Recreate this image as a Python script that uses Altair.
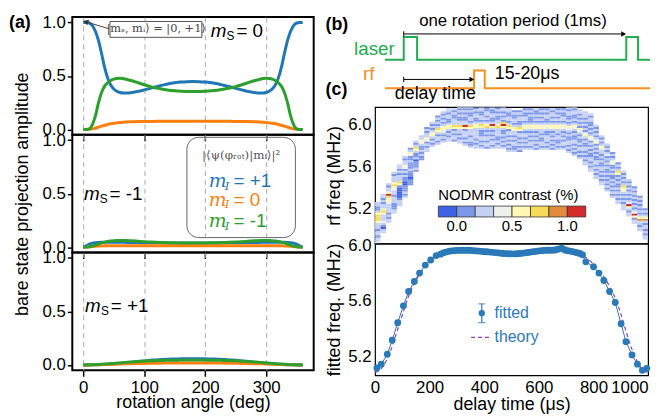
import altair as alt
import pandas as pd

FONT = "Liberation Sans"
SERIF = "DejaVu Serif"
C_BLUE = "#1f77b4"
C_ORANGE = "#ff7f0e"
C_GREEN = "#2ca02c"
C_FIT = "#2a79b8"
C_THEORY = "#8e3fc0"
C_LASER = "#22ad4f"
C_RF = "#f7901e"

# ---------------- (a) bare state projection amplitudes ----------------
deg_fine = [0, 5, 10, 15, 20, 25, 30, 35, 40, 45, 50, 55, 60, 65, 70,
            80, 90, 100, 110, 120, 130, 140, 150, 160, 170, 180, 190, 200, 210, 220, 230, 240, 250, 260, 270, 280,
            290, 295, 300, 305, 310, 315, 320, 325, 330, 335, 340, 345, 350, 355, 360]
deg_coarse = [0, 10, 20, 30, 40, 50, 60, 70, 80, 90, 100, 110, 120, 130, 140, 150, 160, 170, 180,
              190, 200, 210, 220, 230, 240, 250, 260, 270, 280, 290, 300, 310, 320, 330, 340, 350, 360]

ms0_plus = [1.0, 1.0, 0.995, 0.97, 0.915, 0.83, 0.71, 0.58, 0.48, 0.415, 0.378, 0.357, 0.346, 0.341, 0.341,
            0.346, 0.356, 0.37, 0.385, 0.40, 0.414, 0.427, 0.436, 0.443, 0.447, 0.448, 0.447, 0.443, 0.436, 0.427,
            0.414, 0.40, 0.385, 0.37, 0.356, 0.346,
            0.341, 0.341, 0.346, 0.357, 0.378, 0.415, 0.48, 0.58, 0.71, 0.83, 0.915, 0.97, 0.995, 1.0, 1.0]
ms0_minus = [0.0, 0.0, 0.005, 0.045, 0.13, 0.25, 0.345, 0.405, 0.437, 0.458, 0.47, 0.476, 0.478, 0.476, 0.47,
             0.455, 0.437, 0.418, 0.40, 0.387, 0.376, 0.367, 0.361, 0.357, 0.355, 0.354, 0.355, 0.357, 0.361, 0.367,
             0.376, 0.387, 0.40, 0.418, 0.437, 0.455,
             0.47, 0.476, 0.478, 0.476, 0.47, 0.458, 0.437, 0.405, 0.345, 0.25, 0.13, 0.045, 0.005, 0.0, 0.0]
ms0_zero = [0.0, 0.0, 0.002, 0.006, 0.013, 0.022, 0.031, 0.04, 0.047, 0.053, 0.058, 0.062, 0.065, 0.068, 0.07,
            0.072, 0.074, 0.075, 0.075, 0.076, 0.076, 0.076, 0.076, 0.076, 0.076, 0.076, 0.076, 0.076, 0.076, 0.076,
            0.076, 0.076, 0.075, 0.075, 0.074, 0.072,
            0.07, 0.068, 0.065, 0.062, 0.058, 0.053, 0.047, 0.04, 0.031, 0.022, 0.013, 0.006, 0.002, 0.0, 0.0]

msm_plus = [0.0, 0.012, 0.028, 0.038, 0.043, 0.045, 0.046, 0.046, 0.046, 0.046, 0.046, 0.046, 0.046, 0.046, 0.045,
            0.044, 0.043, 0.042, 0.041, 0.041, 0.04, 0.04, 0.04, 0.04, 0.04, 0.04, 0.04, 0.04, 0.04, 0.04,
            0.04, 0.041, 0.041, 0.042, 0.043, 0.044,
            0.045, 0.046, 0.046, 0.046, 0.046, 0.046, 0.046, 0.046, 0.046, 0.045, 0.043, 0.038, 0.028, 0.012, 0.0]
msm_minus = [0.0, 0.001, 0.004, 0.01, 0.02, 0.03, 0.04, 0.048, 0.054, 0.058, 0.061, 0.063, 0.064, 0.064, 0.063,
             0.06, 0.056, 0.052, 0.049, 0.046, 0.044, 0.042, 0.041, 0.04, 0.04, 0.04, 0.04, 0.04, 0.041, 0.042,
             0.044, 0.046, 0.049, 0.052, 0.056, 0.06,
             0.063, 0.064, 0.064, 0.063, 0.061, 0.058, 0.054, 0.048, 0.04, 0.03, 0.02, 0.01, 0.004, 0.001, 0.0]
msm_zero = [0.0, 0.001, 0.003, 0.006, 0.009, 0.011, 0.012, 0.013, 0.013, 0.013, 0.013, 0.013, 0.013, 0.013, 0.013,
            0.013, 0.013, 0.013, 0.013, 0.013, 0.013, 0.013, 0.013, 0.013, 0.013, 0.013, 0.013, 0.013, 0.013, 0.013,
            0.013, 0.013, 0.013, 0.013, 0.013, 0.013,
            0.013, 0.013, 0.013, 0.013, 0.013, 0.013, 0.013, 0.013, 0.012, 0.011, 0.009, 0.006, 0.003, 0.001, 0.0]

msp_plus = [0.0, 0.0, 0.002, 0.004, 0.007, 0.01, 0.015, 0.02, 0.026, 0.032, 0.038, 0.043, 0.047, 0.051, 0.054,
            0.056, 0.057, 0.058, 0.058, 0.058, 0.057, 0.056, 0.054, 0.051, 0.047, 0.043, 0.038, 0.032, 0.026,
            0.02, 0.015, 0.01, 0.007, 0.004, 0.002, 0.0, 0.0]
msp_minus = [0.0, 0.001, 0.003, 0.006, 0.01, 0.014, 0.019, 0.024, 0.028, 0.032, 0.035, 0.038, 0.04, 0.042, 0.043,
             0.044, 0.045, 0.045, 0.045, 0.045, 0.045, 0.044, 0.043, 0.042, 0.04, 0.038, 0.035, 0.032, 0.028,
             0.024, 0.019, 0.014, 0.01, 0.006, 0.003, 0.001, 0.0]
msp_zero = [0.0, 0.0, 0.001, 0.002, 0.004, 0.006, 0.008, 0.01, 0.012, 0.013, 0.014, 0.015, 0.016, 0.017, 0.017,
            0.018, 0.018, 0.018, 0.018, 0.018, 0.018, 0.018, 0.017, 0.017, 0.016, 0.015, 0.014, 0.013, 0.012,
            0.01, 0.008, 0.006, 0.004, 0.002, 0.001, 0.0, 0.0]

ms_values = ["0", "-1", "+1"]
mi_values = ["+1", " 0", "-1"]
mi_colors = [C_BLUE, C_ORANGE, C_GREEN]
ket_text = "|mₛ, mᵢ⟩ = |0, +1⟩"
proj_text = "|⟨ψ(φᵣₒₜ)|mᵢ⟩|²"

# ---------------- (b) timing diagram (µs, arbitrary level) ----------------
laser_t = [-84, 0, 0, 60, 60, 1000, 1000, 1053, 1053, 1107]
laser_v = [5.27, 5.27, 7.80, 7.80, 5.27, 5.27, 7.80, 7.80, 5.27, 5.27]
rf_t = [-84, 316, 316, 364, 364, 1107]
rf_v = [2.09, 2.09, 4.07, 4.07, 2.09, 2.09]

# ---------------- (c) heatmap ----------------
hm_delay = list(range(10, 1000, 20))
hm_low = [4.86, 4.96, 5.06, 5.15, 5.22, 5.30, 5.42, 5.55, 5.66, 5.74,
          5.79, 5.81, 5.83, 5.84, 5.84, 5.82, 5.80, 5.78, 5.77, 5.77,
          5.77, 5.77, 5.77, 5.77, 5.74, 5.74, 5.74, 5.76, 5.76, 5.76,
          5.76, 5.76, 5.76, 5.76, 5.76, 5.73, 5.70, 5.67, 5.61, 5.55,
          5.48, 5.42, 5.36, 5.30, 5.24, 5.18, 5.12, 5.05, 4.98, 4.90]
hm_levels = [
    "43323323335666532233", "3312343335653323233", "3323233334556853323", "33222333233456533323",
    "33321111125633323233", "32322211223232453323", "222122232223224532", "232221322356323",
    "223232235433", "332324533232", "323235532323", "32332356323232", "323234553232323",
    "3323235532233233", "2332325633322323", "332323356332232323", "3232333258332232323",
    "32233233356323322323", "33232333335532233232", "32323322235632332233", "23323323236532323322",
    "32332323235832233223", "33232233336533223232", "32323232235862323233", "323232323325632332233",
    "32233232335532332232", "23232323325632233232", "32323233235532332232", "32332323234532223232",
    "23232323235532323223", "32332232335432323232", "32323332234532233232", "23232323235532323323",
    "32322332335532323232", "32332323234532332232", "3232332232345323223323", "323232332232345323223323",
    "323233232232345232323233", "33232323322323542323232333", "3323233223232324532323223323",
    "33232323322323232543232323", "332323233223232334532323", "32323232322323232432323",
    "3232323232232322543232", "33232323223232563232", "3332323235563232323", "332358432323232323",
    "332584323232323232", "33233753232323232", "332323323753232"]
cb_thresholds = [0, 1 / 6, 1 / 3, 0.5, 2 / 3, 5 / 6, 1.0]
cb_colors = ["#3d62e6", "#7d98ea", "#c5d0f5", "#eef0ec", "#fff8b4", "#f4dc58", "#df8c3c", "#d42a2a"]

# ---------------- (c) fitted frequency ----------------
fit_delay = [7, 23, 45, 63, 83, 104, 123, 144, 163, 184, 204, 224,
             240, 250, 260, 270, 280, 290, 300, 310, 320, 330, 340, 350, 360, 370, 380, 390, 400, 410, 420, 430,
             440, 450, 460, 470, 480, 490, 500, 510, 520, 530, 540, 550, 560, 570, 580, 590, 600, 610, 620, 630,
             640, 650, 660, 670, 683, 690, 700, 710, 720, 730, 740, 750, 760,
             772, 800, 820, 838, 859, 880, 901, 919, 941, 961, 979, 995]
fit_freq = [5.122, 5.149, 5.22, 5.32, 5.445, 5.566, 5.668, 5.74, 5.80, 5.857, 5.893, 5.925,
            5.935, 5.944, 5.95, 5.955, 5.958, 5.96, 5.962, 5.962, 5.963, 5.962,
            5.963, 5.962, 5.96, 5.958, 5.957, 5.955, 5.953, 5.952, 5.95, 5.948,
            5.946, 5.944, 5.942, 5.94, 5.939, 5.938, 5.937, 5.937, 5.938, 5.94,
            5.942, 5.944, 5.947, 5.95, 5.953, 5.955, 5.958, 5.96, 5.962, 5.963,
            5.963, 5.963, 5.965, 5.97, 5.978, 5.97, 5.962, 5.958, 5.955, 5.95, 5.945, 5.94, 5.93,
            5.88, 5.845, 5.80, 5.747, 5.668, 5.59, 5.438, 5.31, 5.215, 5.149, 5.105, 5.118]
theory_delay = list(range(0, 1001, 20))
theory_freq = [5.09, 5.11, 5.17, 5.26, 5.38, 5.50, 5.62, 5.71, 5.78, 5.835,
               5.875, 5.91, 5.935, 5.95, 5.958, 5.962, 5.962, 5.96, 5.958, 5.955,
               5.952, 5.948, 5.945, 5.942, 5.94, 5.938, 5.939, 5.941, 5.944, 5.948,
               5.953, 5.957, 5.96, 5.962, 5.962, 5.958, 5.952, 5.94, 5.925, 5.90,
               5.865, 5.82, 5.77, 5.70, 5.62, 5.51, 5.38, 5.26, 5.17, 5.11, 5.09]

# =====================================================================
XA = alt.Scale(domain=[-18, 378], nice=False, zero=False)
YA = alt.Scale(domain=[-0.05, 1.05], nice=False, zero=False)


def ax_x(bottom):
    return alt.Axis(values=[0, 100, 200, 300], grid=True, gridDash=[5, 4], gridColor="#a8a8a8", gridWidth=1,
                    domain=False, tickSize=6, tickWidth=1.5, tickColor="black", labels=bottom,
                    labelFontSize=17, labelPadding=3, labelColor="black",
                    title="rotation angle (deg)" if bottom else "", titleFontSize=18, titlePadding=-1,
                    titleFontWeight="normal", titleColor="black")


def ax_y(title):
    return alt.Axis(values=[0, 0.5, 1.0], format=".1f", grid=False, domain=False, tickSize=5, tickWidth=1.5,
                    tickColor="black", labelFontSize=17, labelPadding=2, labelColor="black", title=title,
                    titleFontSize=18, titlePadding=11, titleFontWeight="normal", titleColor="black")


def a_base(df, xa, ya, xf="deg", yf="amp"):
    return alt.Chart(df).encode(x=alt.X(f"{xf}:Q", scale=XA, axis=xa), y=alt.Y(f"{yf}:Q", scale=YA, axis=ya))


def curves(deg, plus, zero, minus, xa, ya):
    out = []
    for vals, col in [(plus, C_BLUE), (zero, C_ORANGE), (minus, C_GREEN)]:
        df = pd.DataFrame({"deg": deg, "amp": vals})
        out.append(a_base(df, xa, ya).mark_line(color=col, strokeWidth=3, interpolate="monotone"))
    return out


def ms_label(deg, amp, val, xa, ya):
    b = a_base(pd.DataFrame({"deg": [deg], "amp": [amp]}), xa, ya)
    return [
        b.mark_text(text="m", font=FONT, fontSize=19, fontStyle="italic", align="left", baseline="middle", color="black"),
        b.mark_text(text="S", font=FONT, fontSize=12, align="left", baseline="middle", dx=16, dy=5, color="black"),
        b.mark_text(text="= " + val, font=FONT, fontSize=19, align="left", baseline="middle", dx=26, color="black"),
    ]


VIEW_A = alt.ViewBackground(stroke="black", strokeWidth=2)

# panel 1
xa1, ya1 = ax_x(False), ax_y("")
box1 = a_base(pd.DataFrame({"deg": [43.8], "deg2": [194.5], "amp": [0.861], "amp2": [1.009]}), xa1, ya1).mark_rect(
    fill="white", stroke="#555555", strokeWidth=1).encode(x2="deg2:Q", y2="amp2:Q")
ket = a_base(pd.DataFrame({"deg": [119.5], "amp": [0.935], "t": [ket_text]}), xa1, ya1).mark_text(
    font=SERIF, fontSize=11.5, color="#444444", align="center", baseline="middle").encode(text="t:N")
arrow1 = a_base(pd.DataFrame({"deg": [41.7], "deg2": [5.0], "amp": [0.942], "amp2": [1.005]}), xa1, ya1).mark_rule(
    color="#444444", strokeWidth=1).encode(x2="deg2:Q", y2="amp2:Q")
head1 = a_base(pd.DataFrame({"deg": [4.0], "amp": [1.007]}), xa1, ya1).mark_point(
    shape="triangle-left", angle=17, size=35, filled=True, color="#333333", opacity=1)
lab_a = alt.Chart(pd.DataFrame({"t": ["(a)"]})).mark_text(
    font=FONT, fontSize=18, fontWeight="bold", align="left", baseline="middle", color="black").encode(
    x=alt.value(-64), y=alt.value(6), text="t:N")
p1 = alt.layer(*curves(deg_fine, ms0_plus, ms0_zero, ms0_minus, xa1, ya1), box1, ket, arrow1, head1,
               *ms_label(209, 0.92, ms_values[0], xa1, ya1), lab_a).properties(width=244, height=119, view=VIEW_A)

# panel 2
xa2, ya2 = ax_x(False), ax_y("bare state projection amplitude")
box2 = a_base(pd.DataFrame({"deg": [170], "deg2": [348], "amp": [0.09], "amp2": [1.027]}), xa2, ya2).mark_rect(
    fillOpacity=0, stroke="#666666", strokeWidth=1, cornerRadius=12).encode(x2="deg2:Q", y2="amp2:Q")
proj = a_base(pd.DataFrame({"deg": [259], "amp": [0.864], "t": [proj_text]}), xa2, ya2).mark_text(
    font=SERIF, fontSize=12, color="#555555", align="center", baseline="middle").encode(text="t:N")
mi_layers = []
for val, col, amp in zip(mi_values, mi_colors, [0.618, 0.445, 0.245]):
    b = a_base(pd.DataFrame({"deg": [206], "amp": [amp]}), xa2, ya2)
    mi_layers += [
        b.mark_text(text="m", font=SERIF, fontSize=19, fontStyle="italic", align="left", baseline="middle", color=col),
        b.mark_text(text="I", font=SERIF, fontSize=12, fontStyle="italic", align="left", baseline="middle",
                    dx=16, dy=5, color=col),
        b.mark_text(text="= " + val, font=FONT, fontSize=19, align="left", baseline="middle", dx=25, color=col),
    ]
p2 = alt.layer(*curves(deg_fine, msm_plus, msm_zero, msm_minus, xa2, ya2), box2, proj, *mi_layers,
               *ms_label(1, 0.5, ms_values[1], xa2, ya2)).properties(width=244, height=119, view=VIEW_A)

# panel 3
xa3, ya3 = ax_x(True), ax_y("")
p3 = alt.layer(*curves(deg_coarse, msp_plus, msp_zero, msp_minus, xa3, ya3),
               *ms_label(3, 0.546, ms_values[2], xa3, ya3)).properties(width=244, height=119, view=VIEW_A)

# ---------------- timing ----------------
TX = alt.Scale(domain=[-129, 1098], nice=False, zero=False)
TY = alt.Scale(domain=[0, 10], nice=False, zero=False)


def t_base(df):
    return alt.Chart(df).encode(x=alt.X("t:Q", scale=TX, axis=None), y=alt.Y("v:Q", scale=TY, axis=None))


laser = t_base(pd.DataFrame({"t": laser_t, "v": laser_v, "i": range(len(laser_t))})).mark_line(
    color=C_LASER, strokeWidth=2).encode(order="i:Q")
rf = t_base(pd.DataFrame({"t": rf_t, "v": rf_v, "i": range(len(rf_t))})).mark_line(
    color=C_RF, strokeWidth=2).encode(order="i:Q")
arrows = t_base(pd.DataFrame({"t": [0, 0], "t2": [994, 312], "v": [8.13, 3.08]})).mark_rule(
    color="black", strokeWidth=1).encode(x2="t2:Q")
starts = t_base(pd.DataFrame({"t": [0, 0], "v": [7.83, 2.78], "v2": [8.43, 3.38]})).mark_rule(
    color="black", strokeWidth=1).encode(y2="v2:Q")
heads = t_base(pd.DataFrame({"t": [988, 306], "v": [8.13, 3.08]})).mark_point(
    shape="triangle-right", size=30, filled=True, color="black", opacity=1)
txt_c = t_base(pd.DataFrame({"t": [491], "v": [9.56], "s": ["one rotation period (1ms)"]})).mark_text(
    font=FONT, fontSize=17, align="center", baseline="middle", color="black").encode(text="s:N")
txt_l = t_base(pd.DataFrame({"t": [409, -40], "v": [3.63, 1.43], "s": ["15-20μs", "delay time"]})).mark_text(
    font=FONT, fontSize=18, align="left", baseline="middle", color="black").encode(text="s:N")
txt_laser = t_base(pd.DataFrame({"t": [-40], "v": [6.48], "s": ["laser"]})).mark_text(
    font=FONT, fontSize=19, align="right", baseline="middle", color=C_LASER).encode(text="s:N")
txt_rf = t_base(pd.DataFrame({"t": [-131], "v": [3.63], "s": ["rf"]})).mark_text(
    font=FONT, fontSize=19, align="right", baseline="middle", color=C_RF).encode(text="s:N")
lab_b = alt.Chart(pd.DataFrame({"t": ["(b)", "(c)"], "y": [8, 74]})).mark_text(
    font=FONT, fontSize=18, fontWeight="bold", align="left", baseline="middle", color="black").encode(
    x=alt.value(-50), y=alt.Y("y:Q", scale=alt.Scale(domain=[0, 91], range=[0, 91]), axis=None),
    text="t:N")
timing = alt.layer(laser, rf, arrows, starts, heads, txt_c, txt_l, txt_laser, txt_rf, lab_b).resolve_scale(
    y="independent").properties(width=276, height=91, view=alt.ViewBackground(stroke="transparent"))

# ---------------- heatmap ----------------
rows = []
for d, lo, s in zip(hm_delay, hm_low, hm_levels):
    for i, ch in enumerate(s):
        rows.append({"d0": d - 10, "d1": d + 10, "f0": round(lo + 0.02 * i, 3),
                     "f1": round(lo + 0.02 * (i + 1), 3), "c": (int(ch) - 1.5) / 6})
heat_df = pd.DataFrame(rows)
VIEW_R = alt.ViewBackground(stroke="black", strokeWidth=1.2)

heat = alt.Chart(heat_df).mark_rect(clip=True, strokeWidth=0).encode(
    x=alt.X("d0:Q", scale=alt.Scale(domain=[0, 1000], nice=False),
            axis=alt.Axis(labels=False, ticks=False, domain=False, grid=False, title="")),
    x2="d1:Q",
    y=alt.Y("f0:Q", scale=alt.Scale(domain=[4.86, 6.17], nice=False, zero=False),
            axis=alt.Axis(values=[5.2, 5.6, 6.0], format=".1f", ticks=False, domain=False, grid=False,
                          labelPadding=4, labelFontSize=17, labelColor="black", title="rf freq (MHz)",
                          titleFontSize=18, titlePadding=4, titleFontWeight="normal", titleColor="black")),
    y2="f1:Q",
    color=alt.Color("c:Q", scale=alt.Scale(type="threshold", domain=cb_thresholds, range=cb_colors),
                    legend=alt.Legend(type="gradient", orient="none", legendX=370, legendY=173,
                                      direction="horizontal", title="NODMR contrast (%)", titleFontSize=15,
                                      titleFontWeight="normal", titleColor="black", titlePadding=3,
                                      gradientLength=149, gradientThickness=11, gradientStrokeColor="#333333",
                                      gradientStrokeWidth=0.8, labelFontSize=15, labelColor="black",
                                      labelOverlap=False,
                                      labelExpr="datum.value == 0 || datum.value == 0.5 || datum.value == 1 ? format(datum.value, '.1f') : ''")),
).properties(width=276, height=138, view=VIEW_R)

# ---------------- fitted ----------------
FX = alt.Scale(domain=[0, 1000], nice=False)
FY = alt.Scale(domain=[5.07, 6.01], nice=False, zero=False)
fx_axis = alt.Axis(values=[0, 200, 400, 600, 800, 1000], format="d", ticks=False, domain=False, grid=False,
                   labelPadding=4, labelFontSize=17, labelColor="black", labelOverlap=False,
                   labelAlign={"condition": {"test": "datum.value == 1000", "value": "right"}, "value": "center"},
                   title="delay time (μs)", titleFontSize=18, titlePadding=1, titleFontWeight="normal",
                   titleColor="black")
fy_axis = alt.Axis(values=[5.2, 5.6, 6.0], format=".1f", ticks=False, domain=False, grid=False, labelPadding=4,
                   labelFontSize=17, labelColor="black", labelOverlap=False, title="fitted freq. (MHz)",
                   titleFontSize=18, titlePadding=4, titleFontWeight="normal", titleColor="black")


def f_base(df, xf="d", yf="f"):
    return alt.Chart(df).encode(x=alt.X(f"{xf}:Q", scale=FX, axis=fx_axis), y=alt.Y(f"{yf}:Q", scale=FY, axis=fy_axis))


fit_df = pd.DataFrame({"d": fit_delay, "f": fit_freq})
th = f_base(pd.DataFrame({"d": theory_delay, "f": theory_freq})).mark_line(
    color=C_THEORY, strokeWidth=1.2, strokeDash=[4, 3], interpolate="monotone")
fl = f_base(fit_df).mark_line(color=C_FIT, strokeWidth=1)
fp = f_base(fit_df).mark_circle(color=C_FIT, size=48, opacity=1)
leg_pt = f_base(pd.DataFrame({"d": [391], "f": [5.513]})).mark_circle(color=C_FIT, size=40, opacity=1)
leg_bar = f_base(pd.DataFrame({"d": [391], "f": [5.446], "f2": [5.58]})).mark_rule(
    color=C_FIT, strokeWidth=1.2).encode(y2="f2:Q")
leg_caps = f_base(pd.DataFrame({"d": [391, 391], "f": [5.446, 5.58]})).mark_tick(
    color=C_FIT, orient="horizontal", size=7, thickness=1.2)
leg_dash = f_base(pd.DataFrame({"d": [352], "d2": [421], "f": [5.34]})).mark_rule(
    color=C_THEORY, strokeWidth=1.2, strokeDash=[4, 3]).encode(x2="d2:Q")
leg_txt = f_base(pd.DataFrame({"d": [438, 438], "f": [5.513, 5.34], "s": ["fitted", "theory"]})).mark_text(
    font=FONT, fontSize=16, align="left", baseline="middle", color=C_FIT).encode(text="s:N")
fit = alt.layer(th, fl, fp, leg_pt, leg_bar, leg_caps, leg_dash, leg_txt).properties(
    width=276, height=133, view=VIEW_R)

left = alt.vconcat(p1, p2, p3, spacing=0, bounds="flush")
right = alt.vconcat(timing, heat, fit, spacing=0, bounds="flush")
chart = alt.hconcat(left, right, spacing=10).properties(
    padding={"left": 0, "top": 1, "right": 0, "bottom": 0}).configure(font=FONT)

chart.save("out.html", embed_options={"renderer": "svg", "actions": False})
